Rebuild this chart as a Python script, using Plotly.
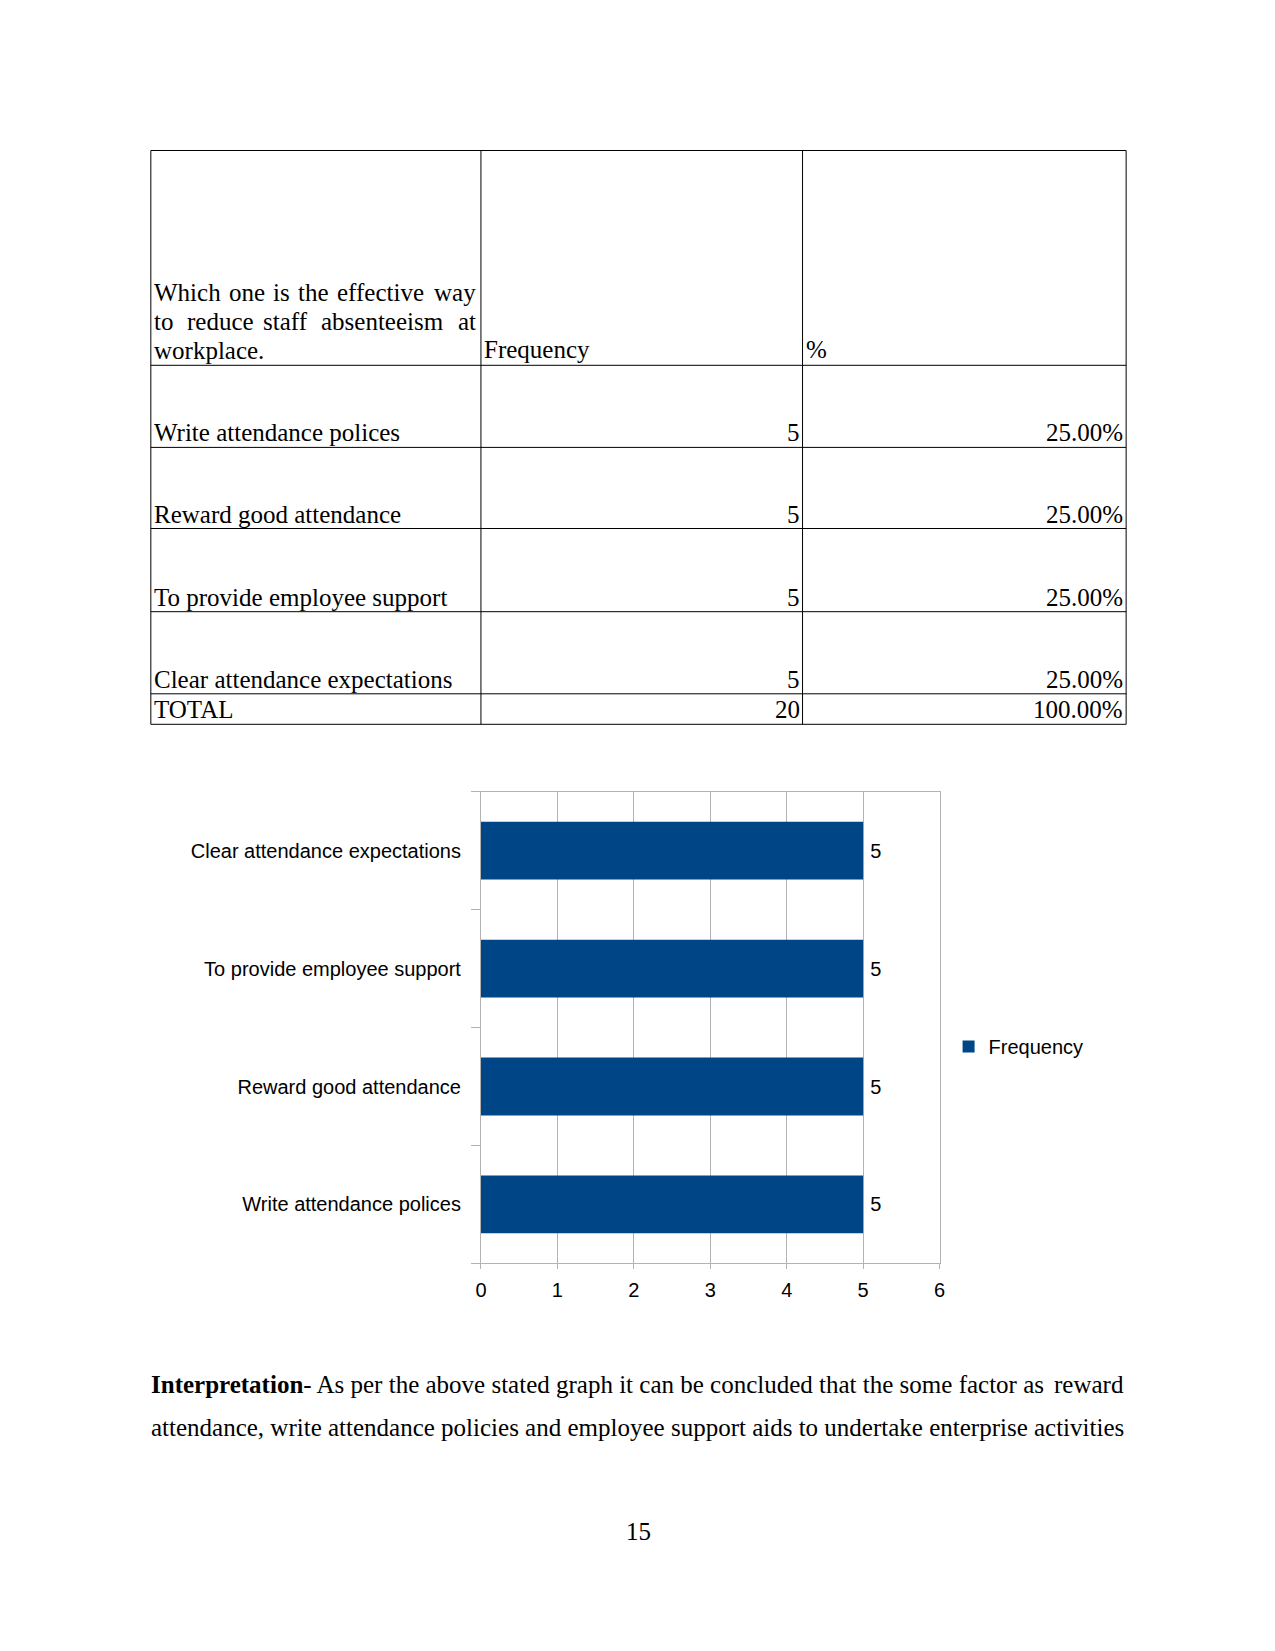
import plotly.graph_objects as go

# ---------------- data ----------------
categories = ["Write attendance polices", "Reward good attendance",
              "To provide employee support", "Clear attendance expectations"]
frequency = [5, 5, 5, 5]
percent_labels = ["25.00%", "25.00%", "25.00%", "25.00%"]
total_label = "TOTAL"
total_frequency = 20
total_percent = "100.00%"
x_ticks = [0, 1, 2, 3, 4, 5, 6]
series_name = "Frequency"
header_question = [
    ["Which", "one", "is", "the", "effective", "way"],
    ["to", "reduce", "staff", "absenteeism", "at"],
    ["workplace."],
]
header_freq = "Frequency"
header_pct = "%"
para_line1_head = "<b>Interpretation</b>- As per the above stated graph it can be concluded that the some factor as"
para_line1_tail = "reward"
para_line2 = "attendance, write attendance policies and employee support aids to undertake enterprise activities"
page_number = "15"

# ---------------- layout helpers ----------------
W, H = 1275, 1651
def fx(x):
    # small horizontal calibration of the capture
    return (x - 5.7) / 0.9903
def px(x):
    return fx(x) / W
def py(y):
    return 1 - y / H

SERIF = "Liberation Serif"
SANS = "Liberation Sans"
BLUE = "#004586"
GRID = "#b3b3b3"

fig = go.Figure()

fig.add_trace(go.Bar(
    y=categories, x=frequency, orientation="h", name=series_name,
    marker=dict(color=BLUE, line=dict(width=0)),
    text=["\u2009" + str(v) for v in frequency], textposition="outside",
    textfont=dict(family=SANS, size=20, color="black"),
    cliponaxis=False, showlegend=True,
))

shapes = []
annotations = []

# ---------------- table ----------------
col_x = [150.5, 480.5, 802, 1125.5]
row_y = [150.5, 365.3, 447.4, 528.5, 611.7, 693.8, 724.3]
for x in col_x:
    shapes.append(dict(type="line", xref="paper", yref="paper",
                       x0=px(x), x1=px(x), y0=py(row_y[0]), y1=py(row_y[-1]),
                       line=dict(color="black", width=1)))
for y in row_y:
    shapes.append(dict(type="line", xref="paper", yref="paper",
                       x0=px(col_x[0]), x1=px(col_x[-1]), y0=py(y), y1=py(y),
                       line=dict(color="black", width=1)))

def txt(x, y, s, anchor="left", size=25, family=SERIF):
    annotations.append(dict(xref="paper", yref="paper", x=px(x), y=py(y),
                            text=s, showarrow=False, xanchor=anchor, yanchor="middle",
                            font=dict(family=family, size=size, color="black"),
                            borderpad=0))

# header question, justified word placement
word_x = [
    [153, 227.5, 272, 297, 336, 477],
    [153, 186, 262, 320, 477],
    [153],
]
line_y = [292.5, 321.5, 350.5]
for words, xs, y in zip(header_question, word_x, line_y):
    for i, (w, x) in enumerate(zip(words, xs)):
        last = (i == len(words) - 1) and len(words) > 1
        txt(x, y, w, anchor="right" if last else "left")
txt(482.5, 350, header_freq)
txt(804.5, 350, header_pct)

row_centers = [432.5, 514, 597.5, 679]
for cat, f, p, yc in zip(categories, frequency, percent_labels, row_centers):
    txt(153, yc, cat)
    txt(800, yc, str(f), anchor="right")
    txt(1123.5, yc, p, anchor="right")
txt(153, 709.5, total_label)
txt(800, 709.5, str(total_frequency), anchor="right")
txt(1123.5, 709.5, total_percent, anchor="right")

# ---------------- paragraph & page number ----------------
txt(149.5, 1384.5, para_line1_head)
txt(1124, 1384.5, para_line1_tail, anchor="right")
txt(149.5, 1427.5, para_line2)
txt(638, 1531, page_number, anchor="center")

# ---------------- chart axes ----------------
fig.update_layout(
    width=W, height=H, margin=dict(l=0, r=0, t=0, b=0),
    paper_bgcolor="white", plot_bgcolor="white",
    bargap=0.51,
    shapes=shapes, annotations=annotations,
    xaxis=dict(
        domain=[px(480.5), px(939)], range=[0, 6], tickvals=x_ticks,
        showgrid=True, gridcolor=GRID, gridwidth=1,
        showline=True, linecolor=GRID, linewidth=1, mirror=True,
        ticks="outside", ticklen=5, tickcolor=GRID,
        ticklabelstandoff=4,
        tickfont=dict(family=SANS, size=20, color="black"),
        zeroline=False, fixedrange=True,
    ),
    yaxis=dict(
        domain=[py(1263.4), py(791.7)], range=[-0.5, 3.5],
        type="category", categoryorder="array", categoryarray=categories,
        showgrid=False, showline=True, linecolor=GRID, linewidth=1, mirror=True,
        ticks="outside", ticklen=9, tickcolor=GRID, tickson="boundaries",
        ticklabelstandoff=15,
        tickfont=dict(family=SANS, size=20, color="black"),
        zeroline=False, fixedrange=True,
    ),
    legend=dict(
        x=px(948), y=py(1046.5), xanchor="left", yanchor="middle",
        font=dict(family=SANS, size=20, color="black"),
        bgcolor="rgba(0,0,0,0)", itemwidth=30,
    ),
    showlegend=True,
)

fig.write_html("out.html", config={"displayModeBar": False})
